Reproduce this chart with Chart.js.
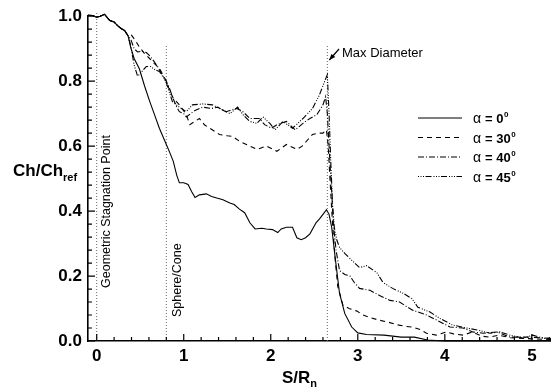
<!DOCTYPE html>
<html>
<head>
<meta charset="utf-8">
<script src="https://cdn.jsdelivr.net/npm/chart.js@4.4.1/dist/chart.umd.min.js"></script>
<style>
  html, body { margin: 0; padding: 0; background: #fff; }
</style>
</head>
<body>
<canvas id="chart" width="551" height="389"></canvas>
<script>
// common stagnation-region part, all four curves lie on top of each other here
const sStart  = [-0.1, -0.05, 0, 0.04, 0.09, 0.12, 0.15, 0.2, 0.24, 0.28, 0.32, 0.36];
const chStart = [1.003, 1.002, 0.997, 1.0, 1.006, 0.996, 0.987, 0.982, 0.971, 0.962, 0.956, 0.94];

// alpha = 0
const s0  = [0.39, 0.43, 0.49, 0.55, 0.61, 0.66, 0.72, 0.8, 0.84, 0.88, 0.92, 0.95, 1.0, 1.05, 1.09, 1.13, 1.18, 1.26, 1.32, 1.38, 1.45, 1.53, 1.58, 1.64, 1.70, 1.76, 1.82, 1.9, 1.95, 2.02, 2.08, 2.12, 2.18, 2.25, 2.30, 2.35, 2.40, 2.45, 2.52, 2.56, 2.6, 2.64, 2.67, 2.70, 2.74, 2.79, 2.85, 2.93, 3.0, 3.1, 3.3, 3.5, 3.65, 3.8, 4.0, 5.22];
const ch0 = [0.905, 0.87, 0.838, 0.785, 0.737, 0.70, 0.655, 0.605, 0.58, 0.553, 0.51, 0.487, 0.487, 0.482, 0.46, 0.442, 0.45, 0.453, 0.445, 0.44, 0.435, 0.425, 0.42, 0.406, 0.395, 0.364, 0.345, 0.347, 0.345, 0.343, 0.334, 0.345, 0.35, 0.35, 0.318, 0.312, 0.318, 0.33, 0.364, 0.376, 0.39, 0.404, 0.39, 0.35, 0.257, 0.147, 0.085, 0.043, 0.025, 0.02, 0.018, 0.012, 0.012, 0.003, 0, 0];

// alpha = 30
const s30  = [0.39, 0.44, 0.49, 0.55, 0.61, 0.66, 0.72, 0.76, 0.8, 0.84, 0.88, 0.95, 1.03, 1.07, 1.12, 1.18, 1.24, 1.3, 1.41, 1.5, 1.56, 1.64, 1.72, 1.84, 1.95, 2.07, 2.18, 2.30, 2.36, 2.41, 2.48, 2.55, 2.60, 2.64, 2.66, 2.68, 2.71, 2.74, 2.77, 2.83, 2.9, 2.99, 3.06, 3.14, 3.25, 3.35, 3.45, 3.55, 3.63, 3.72, 3.79, 3.9, 4.02, 4.1, 4.21, 4.32, 4.42, 4.52, 4.62, 4.75, 4.9, 5.05, 5.22];
const ch30 = [0.945, 0.927, 0.905, 0.885, 0.869, 0.855, 0.84, 0.82, 0.80, 0.77, 0.747, 0.727, 0.697, 0.666, 0.675, 0.685, 0.665, 0.655, 0.636, 0.632, 0.63, 0.615, 0.605, 0.59, 0.60, 0.584, 0.605, 0.59, 0.60, 0.615, 0.636, 0.64, 0.64, 0.65, 0.60, 0.50, 0.36, 0.25, 0.168, 0.11, 0.10, 0.092, 0.08, 0.072, 0.064, 0.058, 0.05, 0.045, 0.043, 0.035, 0.024, 0.018, 0.028, 0.022, 0.018, 0.028, 0.015, 0.012, 0.018, 0.01, 0.008, 0.006, 0.005];

// alpha = 40
const s40  = [0.39, 0.43, 0.47, 0.52, 0.57, 0.62, 0.66, 0.7, 0.75, 0.8, 0.84, 0.88, 0.92, 0.95, 1.0, 1.03, 1.08, 1.13, 1.22, 1.32, 1.39, 1.49, 1.55, 1.61, 1.68, 1.76, 1.87, 1.93, 2.01, 2.07, 2.18, 2.28, 2.37, 2.45, 2.53, 2.60, 2.63, 2.65, 2.68, 2.70, 2.72, 2.75, 2.79, 2.85, 2.91, 2.96, 3.02, 3.14, 3.25, 3.37, 3.48, 3.55, 3.63, 3.79, 3.91, 4.06, 4.21, 4.32, 4.44, 4.6, 4.75, 4.98, 5.1, 5.22];
const ch40 = [0.93, 0.90, 0.89, 0.892, 0.888, 0.875, 0.86, 0.845, 0.82, 0.80, 0.775, 0.745, 0.72, 0.706, 0.70, 0.69, 0.70, 0.71, 0.72, 0.716, 0.72, 0.706, 0.712, 0.716, 0.706, 0.685, 0.685, 0.666, 0.655, 0.666, 0.676, 0.65, 0.67, 0.685, 0.697, 0.727, 0.752, 0.70, 0.55, 0.46, 0.36, 0.28, 0.217, 0.205, 0.20, 0.18, 0.162, 0.156, 0.14, 0.125, 0.12, 0.108, 0.095, 0.08, 0.064, 0.043, 0.04, 0.028, 0.024, 0.028, 0.012, 0.012, 0.01, 0.008];

// alpha = 45
const s45  = [0.39, 0.43, 0.47, 0.52, 0.57, 0.62, 0.67, 0.72, 0.77, 0.8, 0.83, 0.87, 0.95, 1.03, 1.1, 1.22, 1.33, 1.41, 1.53, 1.62, 1.68, 1.76, 1.84, 1.91, 1.99, 2.05, 2.14, 2.25, 2.37, 2.48, 2.56, 2.62, 2.65, 2.67, 2.69, 2.71, 2.73, 2.76, 2.79, 2.85, 2.91, 3.02, 3.1, 3.22, 3.29, 3.40, 3.52, 3.62, 3.69, 3.83, 3.94, 4.09, 4.25, 4.37, 4.52, 4.63, 4.75, 4.9, 5.01, 5.13, 5.22];
const ch45 = [0.91, 0.85, 0.815, 0.83, 0.845, 0.845, 0.835, 0.83, 0.81, 0.795, 0.77, 0.737, 0.72, 0.706, 0.727, 0.73, 0.727, 0.716, 0.70, 0.72, 0.697, 0.676, 0.67, 0.69, 0.67, 0.65, 0.676, 0.655, 0.685, 0.716, 0.758, 0.80, 0.82, 0.70, 0.55, 0.42, 0.35, 0.31, 0.288, 0.27, 0.254, 0.226, 0.232, 0.21, 0.18, 0.162, 0.147, 0.131, 0.104, 0.089, 0.07, 0.049, 0.04, 0.034, 0.024, 0.028, 0.018, 0.009, 0.018, 0.009, 0.005];

// reference stations (dotted verticals)
const markS   = [0, 0.8, 2.65];
const markTop = [1.01, 0.91, 0.91];

const alphas = [0, 30, 40, 45];
const dashes = [[], [5, 4], [6, 2, 1, 2], [1, 1.5, 1, 1.5, 1, 1.5, 6, 2]];
const xTicks = [0, 1, 2, 3, 4, 5];

function pts(s, ch) {
  return sStart.map((v, i) => ({ x: v, y: chStart[i] }))
    .concat(s.map((v, i) => ({ x: v, y: ch[i] })));
}

const curves = [[s0, ch0], [s30, ch30], [s40, ch40], [s45, ch45]];
const datasets = curves.map((c, i) => ({
  label: 'α = ' + alphas[i],
  data: pts(c[0], c[1]),
  borderColor: '#000',
  borderWidth: 1.1,
  borderDash: dashes[i],
  isCurve: true
}));
markS.forEach((s, i) => datasets.push({
  data: [{ x: s, y: 0 }, { x: s, y: markTop[i] }],
  borderColor: '#666',
  borderWidth: 1,
  borderDash: [1, 2]
}));

const FONT = "'Liberation Sans', Arial, sans-serif";

// inward minor/major ticks, titles, legend and labels
const decor = {
  id: 'decor',
  afterDraw(chart) {
    const { ctx, chartArea: a, scales: { x, y } } = chart;
    ctx.save();
    ctx.strokeStyle = '#000';
    ctx.lineWidth = 1.2;
    ctx.beginPath();
    for (let i = 0; i <= 25; i++) {
      const py = y.getPixelForValue(i * 0.04);
      const len = i % 5 === 0 ? 7 : 4;
      ctx.moveTo(a.left, py); ctx.lineTo(a.left + len, py);
    }
    for (let i = 0; i <= 26; i++) {
      const px = x.getPixelForValue(i * 0.2);
      const len = i % 5 === 0 ? 7 : 4;
      ctx.moveTo(px, a.bottom); ctx.lineTo(px, a.bottom - len);
    }
    ctx.stroke();

    ctx.fillStyle = '#000';
    ctx.textBaseline = 'alphabetic';
    ctx.textAlign = 'left';

    // axis titles
    ctx.font = 'bold 17px ' + FONT;
    ctx.fillText('Ch/Ch', 13, 176);
    let w = ctx.measureText('Ch/Ch').width;
    ctx.font = 'bold 11px ' + FONT;
    ctx.fillText('ref', 13 + w, 181);

    ctx.font = 'bold 17px ' + FONT;
    ctx.fillText('S/R', 282, 383);
    w = ctx.measureText('S/R').width;
    ctx.font = 'bold 11px ' + FONT;
    ctx.fillText('n', 282 + w, 387);

    // station labels
    ctx.font = '12.5px ' + FONT;
    ctx.save();
    ctx.translate(x.getPixelForValue(markS[0]) + 13, 288);
    ctx.rotate(-Math.PI / 2);
    ctx.fillText('Geometric Stagnation Point', 0, 0);
    ctx.restore();
    ctx.save();
    ctx.translate(x.getPixelForValue(markS[1]) + 15, 317);
    ctx.rotate(-Math.PI / 2);
    ctx.fillText('Sphere/Cone', 0, 0);
    ctx.restore();

    ctx.font = '13px ' + FONT;
    ctx.fillText('Max Diameter', 342, 57);
    const ax = x.getPixelForValue(markS[2]) + 2, ay = 60;
    ctx.beginPath();
    ctx.moveTo(339, 49); ctx.lineTo(ax, ay);
    ctx.stroke();
    ctx.beginPath();
    ctx.moveTo(ax, ay); ctx.lineTo(ax + 2, ay - 6); ctx.lineTo(ax + 6, ay - 3);
    ctx.closePath();
    ctx.fill();

    // legend
    chart.data.datasets.filter(d => d.isCurve).forEach((d, i) => {
      const ly = 118 + i * 19.5;
      ctx.save();
      ctx.lineWidth = 1.1;
      ctx.setLineDash(d.borderDash);
      ctx.beginPath();
      ctx.moveTo(418, ly); ctx.lineTo(462, ly);
      ctx.stroke();
      ctx.restore();
      let tx = 473;
      ctx.font = '14px ' + FONT;
      ctx.fillText('α', tx, ly + 5);
      tx += ctx.measureText('α ').width;
      ctx.font = 'bold 13px ' + FONT;
      const t = '= ' + alphas[i];
      ctx.fillText(t, tx, ly + 5);
      tx += ctx.measureText(t).width + 0.5;
      ctx.font = 'bold 8px ' + FONT;
      ctx.fillText('0', tx, ly - 1);
    });
    ctx.restore();
  }
};

new Chart(document.getElementById('chart'), {
  type: 'line',
  data: { datasets },
  options: {
    responsive: false,
    animation: false,
    devicePixelRatio: 1,
    parsing: false,
    layout: { padding: { top: 14, right: 0, left: 0, bottom: 0 } },
    elements: { point: { radius: 0 }, line: { tension: 0 } },
    datasets: { line: { clip: false } },
    plugins: { legend: { display: false }, tooltip: { enabled: false } },
    scales: {
      x: {
        type: 'linear',
        min: -0.1,
        max: 5.22,
        afterBuildTicks: s => { s.ticks = xTicks.map(v => ({ value: v })); },
        afterFit: s => { s.height = 48; },
        grid: { color: 'rgba(0,0,0,0)', drawTicks: false },
        border: { display: true, color: '#000', width: 1.6 },
        ticks: {
          padding: 5,
          color: '#000',
          font: { family: FONT, size: 17, weight: 'bold' },
          callback: v => String(v)
        }
      },
      y: {
        min: 0,
        max: 1,
        afterFit: s => { s.width = 88; },
        grid: { color: 'rgba(0,0,0,0)', drawTicks: false },
        border: { display: true, color: '#000', width: 1.6 },
        ticks: {
          stepSize: 0.2,
          padding: 6,
          color: '#000',
          font: { family: FONT, size: 17, weight: 'bold' },
          callback: v => v.toFixed(1)
        }
      }
    }
  },
  plugins: [decor]
});
</script>
</body>
</html>
